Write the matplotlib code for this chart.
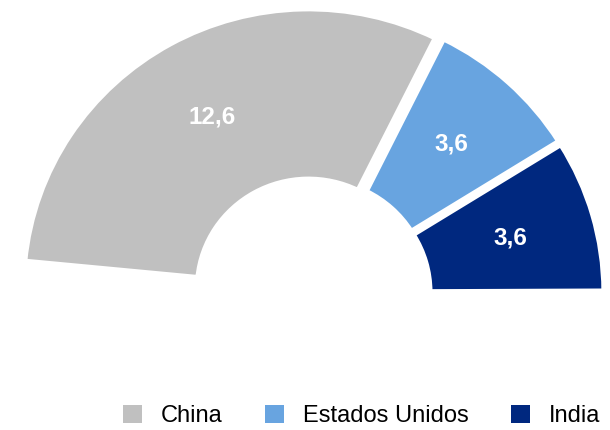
import numpy as np
import matplotlib.pyplot as plt
from matplotlib.patches import Patch

paises = ['China', 'Estados Unidos', 'India']
valores = [12.6, 3.6, 3.6]
etiquetas = ['12,6', '3,6', '3,6']
colores = ['#C0C0C0', '#68A4E0', '#00287F']
resto = 21.1  # parte oculta del anillo (estimada)

plt.rcParams['font.family'] = ['Liberation Sans', 'DejaVu Sans']

fig = plt.figure(figsize=(6.1, 4.3), dpi=100)
ax = fig.add_axes([0, 0, 1, 1])

wedges, _ = ax.pie(valores + [resto], colors=colores + ['white'],
                   startangle=174.5, counterclock=False,
                   explode=[0.025, 0.025, 0.025, 0],
                   wedgeprops=dict(width=0.61, edgecolor='white', linewidth=3.6))
wedges[-1].set_visible(False)

for w, txt in zip(wedges[:3], etiquetas):
    ang = np.deg2rad((w.theta1 + w.theta2) / 2)
    r = 0.70
    cx, cy = w.center
    ax.text(cx + r * np.cos(ang), cy + r * np.sin(ang), txt, color='white',
            fontsize=17.5, fontweight='bold', ha='center', va='center')

# escala algo mas ancha que alta, como el original
sx, sy = 285.0, 279.0
ax.set_aspect('auto')
ax.set_xlim(-312 / sx, 298 / sx)
ax.set_ylim(-136 / sy, 294 / sy)
ax.axis('off')

handles = [Patch(facecolor=c, edgecolor='none') for c in colores]
fig.legend(handles, paises, loc='center', bbox_to_anchor=(0.593, 0.033),
           ncol=3, frameon=False, fontsize=17, handlelength=0.8,
           handleheight=0.8, handletextpad=0.8, columnspacing=1.8)

fig.savefig('out.png', dpi=100)
